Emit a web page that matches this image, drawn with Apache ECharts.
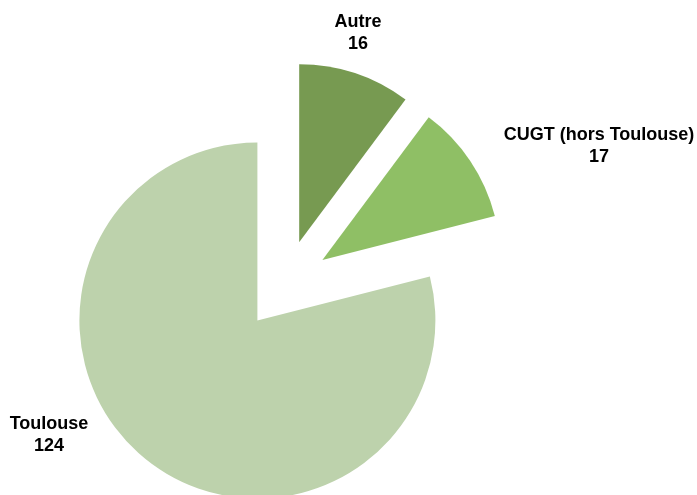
<!DOCTYPE html>
<html>
<head>
<meta charset="utf-8">
<script src="https://cdn.jsdelivr.net/npm/echarts@6/dist/echarts.min.js"></script>
<style>
  html, body { margin: 0; padding: 0; background: #fff; }
  #chart { width: 697px; height: 495px; }
</style>
</head>
<body>
<div id="chart"></div>
<script>
// données
const categories = ["Autre", "CUGT (hors Toulouse)", "Toulouse"];
const values = [16, 17, 124];
const colors = ["#779a51", "#8fbf65", "#bdd2ac"];
// position des étiquettes (centre du bloc de texte)
const labelPos = [[358, 33], [599, 146], [49, 435]];

const chart = echarts.init(document.getElementById("chart"));

const seriesData = categories.map((name, i) => ({
    name: name,
    value: values[i],
    selected: true,
    itemStyle: { color: colors[i] },
    select: { itemStyle: { color: colors[i] } },
}));

// étiquettes en texte libre
const labels = categories.map((name, i) => ({
    type: "text",
    x: labelPos[i][0],
    y: labelPos[i][1],
    style: {
        text: name + "\n" + values[i],
        fill: "#000",
        font: "bold 18px 'Liberation Sans', Arial, sans-serif",
        lineHeight: 22,
        align: "center",
        verticalAlign: "middle",
    },
}));

chart.setOption({
    animation: false,
    backgroundColor: "#fff",
    graphic: labels,
    series: [
        {
            type: "pie",
            center: [285, 285],
            radius: [0, 178],
            startAngle: 90,
            clockwise: true,
            selectedMode: "multiple",
            selectedOffset: 45,
            label: { show: false },
            labelLine: { show: false },
            emphasis: { disabled: true },
            data: seriesData,
        },
    ],
});
</script>
</body>
</html>
